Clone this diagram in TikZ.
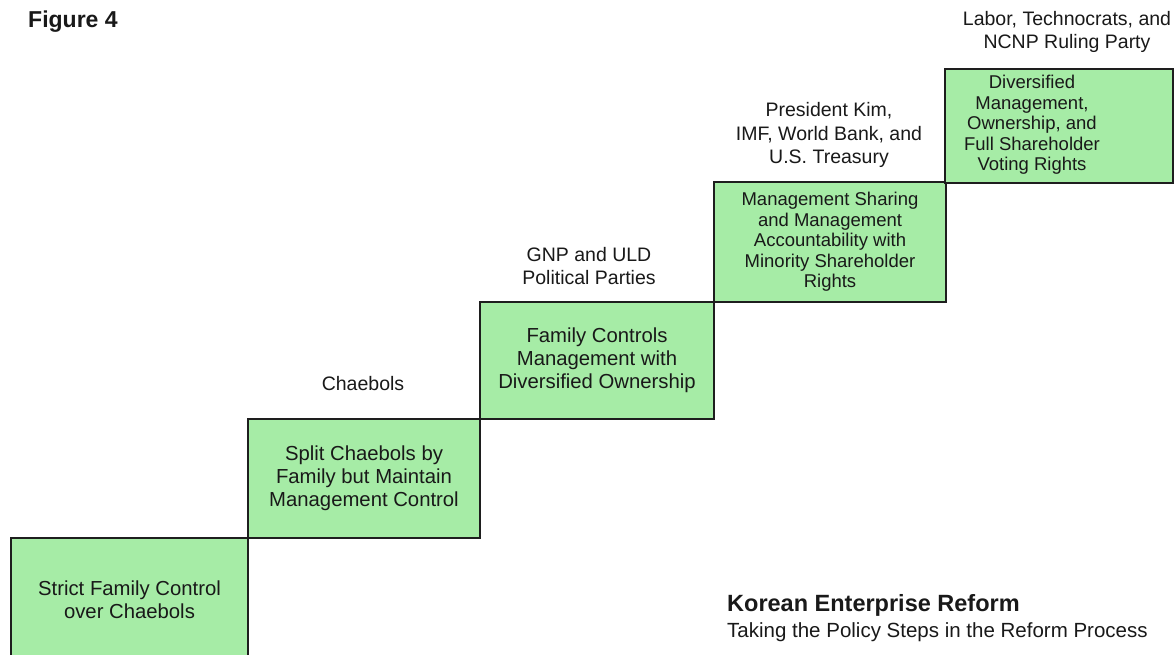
\documentclass[tikz,border=0pt]{standalone}
\usepackage{fontspec}
\setmainfont{Liberation Sans}
\definecolor{boxgreen}{RGB}{166,236,166}
\definecolor{edge}{RGB}{30,30,30}
\definecolor{ink}{RGB}{25,25,25}
\begin{document}
\begin{tikzpicture}[x=1pt,y=-1pt,
  stepbox/.style={draw=edge, line width=2pt, fill=boxgreen, inner sep=0pt,
    anchor=north west, align=center, text=ink},
  bigtext/.style={font=\fontsize{20.3}{23}\selectfont},
  smalltext/.style={font=\fontsize{18.5}{20.5}\selectfont},
  lbl/.style={align=center, text=ink, inner sep=0pt, font=\fontsize{19.5}{23.5}\selectfont}
]
\useasboundingbox (0,0) rectangle (1174,655);
\fill[white] (0,0) rectangle (1174,655);

\node[stepbox, bigtext, minimum width=237pt, minimum height=124pt] (s1) at (10,537)
  {Strict Family Control\\over Chaebols};
\node[stepbox, bigtext, minimum width=232pt, minimum height=119pt] (s2) at (247,418)
  {Split Chaebols by\\Family but Maintain\\Management Control};
\node[stepbox, bigtext, minimum width=234pt, minimum height=117pt] (s3) at (479,301)
  {Family Controls\\Management with\\Diversified Ownership};
\node[stepbox, smalltext, minimum width=232pt, minimum height=120pt] (s4) at (713,181)
  {Management Sharing\\and Management\\Accountability with\\Minority Shareholder\\Rights};
\node[stepbox, minimum width=228pt, minimum height=114pt] (s5) at (944,68) {};
\node[smalltext, align=center, text=ink, inner sep=0pt] (t5) at (1032,125)
  {Diversified\\Management,\\Ownership, and\\Full Shareholder\\Voting Rights};

\node[lbl] (l2) at (363,384) {Chaebols};
\node[lbl] (l3) at (589,266) {GNP and ULD\\Political Parties};
\node[lbl] (l4) at (829,135) {President Kim,\\IMF, World Bank, and\\U.S. Treasury};
\node[lbl] (l5) at (1067,32) {Labor, Technocrats, and\\NCNP Ruling Party};

\node[anchor=west, inner sep=0pt, text=ink, font=\fontsize{23}{26}\selectfont\bfseries] (fig) at (28,22) {Figure 4};
\node[anchor=west, inner sep=0pt, text=ink, font=\fontsize{23.5}{27}\selectfont\bfseries] (title) at (727,605) {Korean Enterprise Reform};
\node[anchor=west, inner sep=0pt, text=ink, font=\fontsize{20.5}{24}\selectfont] (sub) at (727,632) {Taking the Policy Steps in the Reform Process};
\end{tikzpicture}
\end{document}
